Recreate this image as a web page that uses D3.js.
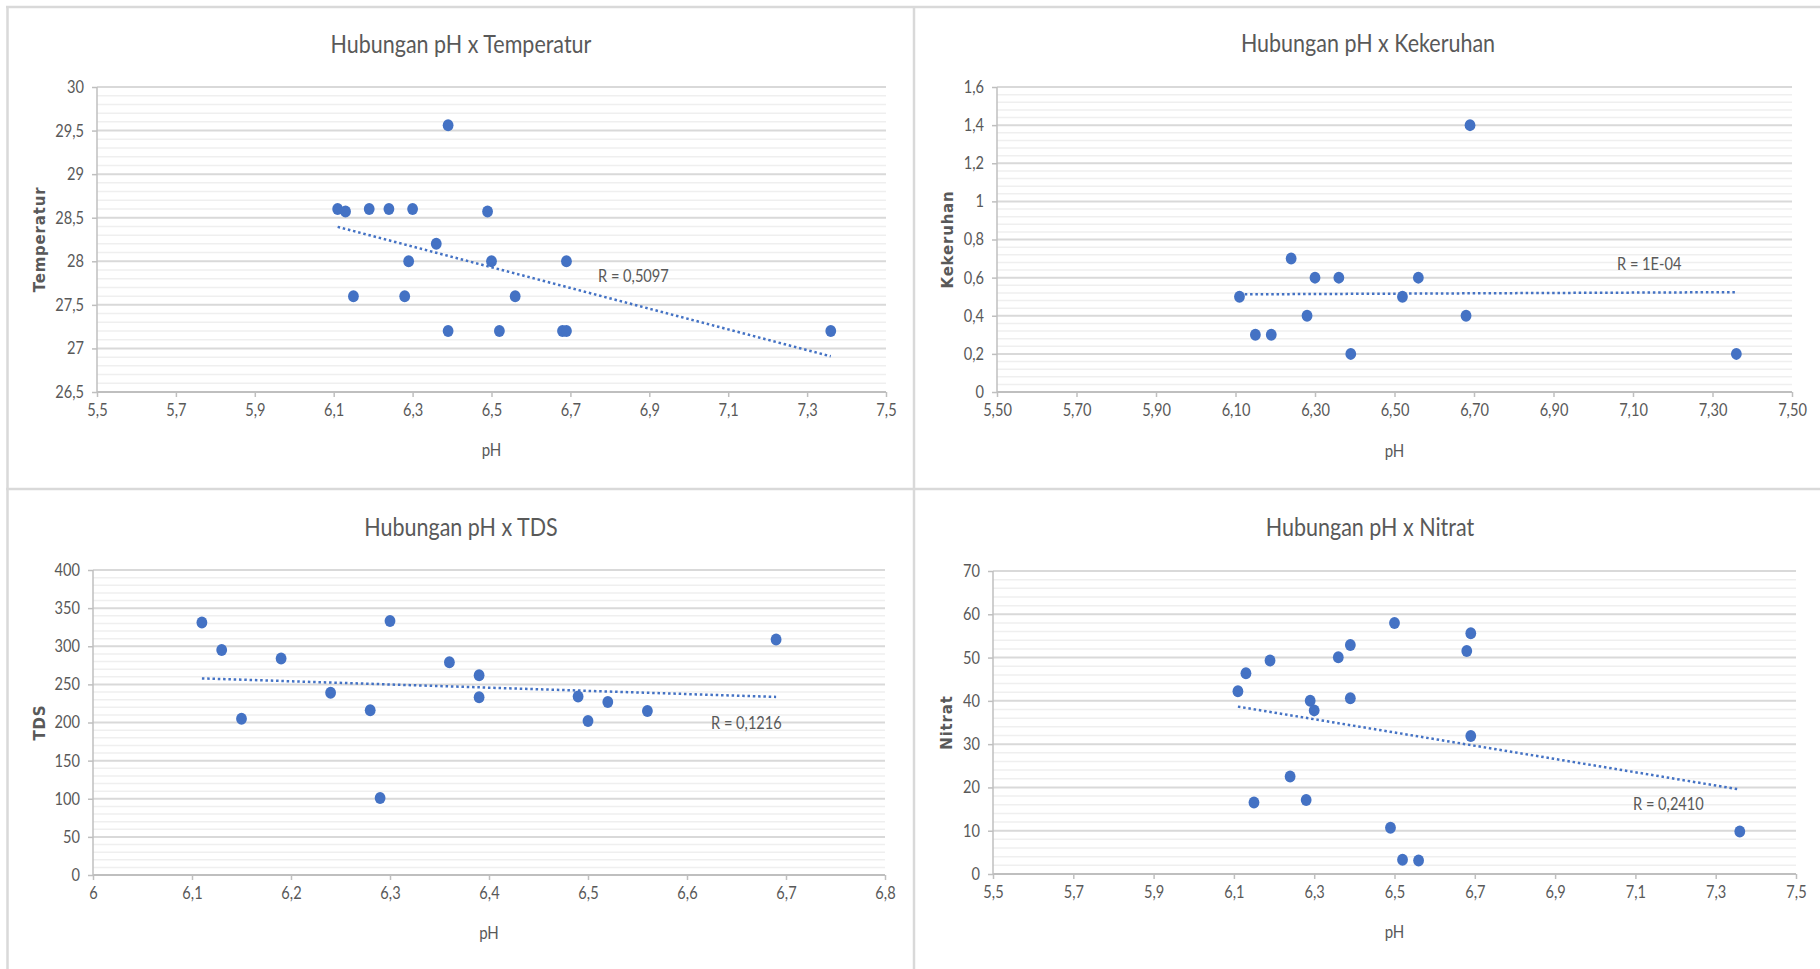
<!DOCTYPE html>
<html>
<head>
<meta charset="utf-8">
<script src="https://cdn.jsdelivr.net/npm/d3@7"></script>
<style>
  html, body { margin: 0; padding: 0; background: #ffffff; }
  svg { display: block; }
  text { font-family: Lato, "Open Sans", sans-serif; fill: #595959; }
</style>
</head>
<body>
<svg id="chart" width="1820" height="969"></svg>
<script>
// ---- data -------------------------------------------------------------
const phTemperatur = [6.11, 6.13, 6.19, 6.24, 6.30, 6.49, 6.39, 6.36, 6.29, 6.50, 6.69, 6.15, 6.28, 6.56, 6.39, 6.52, 6.68, 6.69, 7.36];
const temperatur   = [28.6, 28.57, 28.6, 28.6, 28.6, 28.57, 29.56, 28.2, 28.0, 28.0, 28.0, 27.6, 27.6, 27.6, 27.2, 27.2, 27.2, 27.2, 27.2];

const phKekeruhan = [6.11, 6.15, 6.19, 6.24, 6.28, 6.30, 6.36, 6.39, 6.52, 6.56, 6.68, 6.69, 7.36];
const kekeruhan   = [0.5, 0.3, 0.3, 0.7, 0.4, 0.6, 0.6, 0.2, 0.5, 0.6, 0.4, 1.4, 0.2];

const phTDS = [6.11, 6.13, 6.15, 6.19, 6.24, 6.28, 6.29, 6.30, 6.36, 6.39, 6.39, 6.49, 6.50, 6.52, 6.56, 6.69];
const tds   = [331, 295, 205, 284, 239, 216, 101, 333, 279, 262, 233, 234, 202, 227, 215, 309];

const phNitrat = [6.11, 6.13, 6.19, 6.15, 6.24, 6.28, 6.29, 6.30, 6.36, 6.39, 6.39, 6.50, 6.49, 6.52, 6.56, 6.68, 6.69, 6.69, 7.36];
const nitrat   = [42.2, 46.4, 49.3, 16.5, 22.5, 17.1, 40.0, 37.8, 50.1, 52.9, 40.6, 58.0, 10.7, 3.3, 3.1, 51.5, 55.6, 31.9, 9.8];

const titles  = ["Hubungan pH x Temperatur", "Hubungan pH x Kekeruhan", "Hubungan pH x TDS", "Hubungan pH x Nitrat"];
const yTitles = ["Temperatur", "Kekeruhan", "TDS", "Nitrat"];
const xTitle  = "pH";
const rLabels = ["R = 0,5097", "R = 1E-04", "R = 0,1216", "R = 0,2410"];

// axis ranges and tick spacing
const xDomains    = [[5.5, 7.5], [5.5, 7.5], [6, 6.8], [5.5, 7.5]];
const xTickSteps  = [0.2, 0.2, 0.1, 0.2];
const xTickFormat = ["~", ".2f", "~", "~"];
const yDomains    = [[26.5, 30], [0, 1.6], [0, 400], [0, 70]];
const yMajorSteps = [0.5, 0.2, 50, 10];
const yMinorSteps = [0.1, 0.04, 10, 2];

// ---- layout -----------------------------------------------------------
const layout = [
  { plot: { x0: 97,  x1: 886,  y0: 87,  y1: 392 }, title: [461, 44],  yTitleX: 40,  xTitleY: 450, r: [598, 276] },
  { plot: { x0: 997, x1: 1792, y0: 87,  y1: 392 }, title: [1368, 43], yTitleX: 948, xTitleY: 451, r: [1617, 264] },
  { plot: { x0: 93,  x1: 885,  y0: 570, y1: 875 }, title: [461, 527], yTitleX: 40,  xTitleY: 933, r: [711, 723] },
  { plot: { x0: 993, x1: 1796, y0: 571, y1: 874 }, title: [1370, 527], yTitleX: 947, xTitleY: 932, r: [1633, 804] }
];

const series = [
  [phTemperatur, temperatur],
  [phKekeruhan, kekeruhan],
  [phTDS, tds],
  [phNitrat, nitrat]
];

const COLORS = {
  marker: "#4472c4",
  frame: "#d9d9d9",
  major: "#d9d9d9",
  minor: "#efefef",
  axis: "#bfbfbf",
  text: "#595959"
};

// narrow letterforms: horizontal squeeze keeping the anchor point in place
const SQUEEZE = 0.86;
function squeeze(sel) {
  sel.each(function () {
    const t = d3.select(this);
    const x = +t.attr("x") || 0;
    t.attr("x", x / SQUEEZE).attr("transform", `scale(${SQUEEZE},1)`);
  });
}

const svg = d3.select("#chart");

// panel frame lines
const frame = svg.append("g").attr("stroke", COLORS.frame).attr("stroke-width", 2.5);
frame.append("line").attr("x1", 7.5).attr("x2", 7.5).attr("y1", 6).attr("y2", 969);
frame.append("line").attr("x1", 6).attr("x2", 1820).attr("y1", 7).attr("y2", 7);
frame.append("line").attr("x1", 914).attr("x2", 914).attr("y1", 6).attr("y2", 969);
frame.append("line").attr("x1", 6).attr("x2", 1820).attr("y1", 489).attr("y2", 489);

// evenly spaced tick values without float drift
function steps(lo, hi, step) {
  const n = Math.round((hi - lo) / step);
  return d3.range(n + 1).map(i => +(lo + i * step).toFixed(6));
}
const decimalComma = s => s.replace(".", ",");

// least-squares line through the points
function linearFit(xs, ys) {
  const mx = d3.mean(xs), my = d3.mean(ys);
  let sxy = 0, sxx = 0;
  xs.forEach((x, i) => { sxy += (x - mx) * (ys[i] - my); sxx += (x - mx) * (x - mx); });
  const slope = sxy / sxx;
  return x => my + slope * (x - mx);
}

series.forEach(([xs, ys], k) => {
  const L = layout[k];
  const p = L.plot;
  const g = svg.append("g");

  const x = d3.scaleLinear().domain(xDomains[k]).range([p.x0, p.x1]);
  const y = d3.scaleLinear().domain(yDomains[k]).range([p.y1, p.y0]);

  const xTicks = steps(xDomains[k][0], xDomains[k][1], xTickSteps[k]);
  const yMajor = steps(yDomains[k][0], yDomains[k][1], yMajorSteps[k]);
  const yMinor = steps(yDomains[k][0], yDomains[k][1], yMinorSteps[k])
    .filter(v => !yMajor.some(m => Math.abs(m - v) < 1e-9));

  // minor gridlines
  g.append("g").selectAll("line").data(yMinor).join("line")
    .attr("x1", p.x0).attr("x2", p.x1)
    .attr("y1", d => y(d)).attr("y2", d => y(d))
    .attr("stroke", COLORS.minor).attr("stroke-width", 1.5);

  // major gridlines
  g.append("g").selectAll("line").data(yMajor.slice(1)).join("line")
    .attr("x1", p.x0).attr("x2", p.x1)
    .attr("y1", d => y(d)).attr("y2", d => y(d))
    .attr("stroke", COLORS.major).attr("stroke-width", 2);

  // x axis
  const fx = d3.format(xTickFormat[k]);
  const xAxis = d3.axisBottom(x).tickValues(xTicks).tickSize(5).tickPadding(7)
    .tickFormat(d => decimalComma(fx(d)));
  const gx = g.append("g").attr("transform", `translate(0,${p.y1})`).call(xAxis);
  gx.select(".domain").attr("stroke", COLORS.axis).attr("stroke-width", 2).attr("d", `M${p.x0},0H${p.x1}`);
  gx.selectAll(".tick line").attr("stroke", COLORS.axis).attr("stroke-width", 1.5);
  gx.selectAll(".tick text").attr("fill", COLORS.text)
    .style("font-family", "Lato, sans-serif").style("font-size", "17px").call(squeeze);

  // y axis
  const yAxis = d3.axisLeft(y).tickValues(yMajor).tickSize(5).tickPadding(8)
    .tickFormat(d => decimalComma(d3.format("~")(d)));
  const gy = g.append("g").attr("transform", `translate(${p.x0},0)`).call(yAxis);
  gy.select(".domain").attr("stroke", COLORS.axis).attr("stroke-width", 1.5).attr("d", `M0,${p.y0}V${p.y1}`);
  gy.selectAll(".tick line").attr("stroke", COLORS.axis).attr("stroke-width", 1.5);
  gy.selectAll(".tick text").attr("fill", COLORS.text)
    .style("font-family", "Lato, sans-serif").style("font-size", "17px").call(squeeze);

  // titles
  g.append("text").attr("x", L.title[0]).attr("y", L.title[1]).attr("dy", "0.35em")
    .attr("text-anchor", "middle").style("font-size", "25px").text(titles[k]).call(squeeze);

  g.append("text").attr("x", (p.x0 + p.x1) / 2).attr("y", L.xTitleY).attr("dy", "0.35em")
    .attr("text-anchor", "middle").style("font-size", "17.5px").text(xTitle).call(squeeze);

  g.append("text")
    .attr("transform", `translate(${L.yTitleX},${(p.y0 + p.y1) / 2}) rotate(-90)`)
    .attr("dy", "0.35em").attr("text-anchor", "middle")
    .style("font-family", "'DejaVu Sans', sans-serif").style("font-weight", "bold")
    .style("font-size", "15px").style("letter-spacing", "0.8px")
    .text(yTitles[k]);

  // trendline
  const fit = linearFit(xs, ys);
  const [xmin, xmax] = d3.extent(xs);
  g.append("line")
    .attr("x1", x(xmin)).attr("y1", y(fit(xmin)))
    .attr("x2", x(xmax)).attr("y2", y(fit(xmax)))
    .attr("stroke", COLORS.marker).attr("stroke-width", 2.5)
    .attr("stroke-dasharray", "2.5 2.8");

  // points
  g.append("g").selectAll("ellipse").data(xs.map((v, i) => [v, ys[i]])).join("ellipse")
    .attr("cx", d => x(d[0])).attr("cy", d => y(d[1]))
    .attr("rx", 5.4).attr("ry", 6)
    .attr("fill", COLORS.marker);

  // correlation label
  g.append("text").attr("x", L.r[0]).attr("y", L.r[1]).attr("dy", "0.35em")
    .style("font-size", "17px").text(rLabels[k]).call(squeeze);
});
</script>
</body>
</html>
